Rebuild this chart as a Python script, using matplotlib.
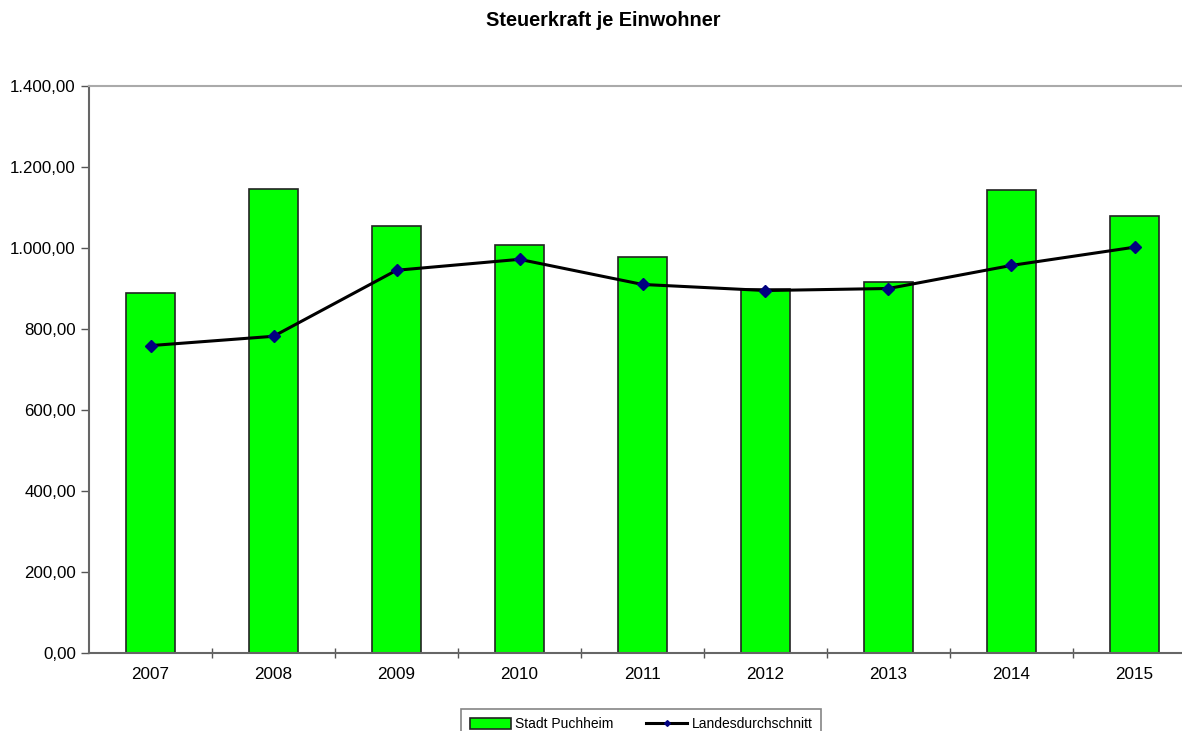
import numpy as np
import matplotlib.pyplot as plt
from matplotlib.ticker import FuncFormatter

plt.rcParams['font.family'] = ['Liberation Sans', 'DejaVu Sans']

## DATA
years = ['2007', '2008', '2009', '2010', '2011', '2012', '2013', '2014', '2015']
stadt = [888, 1145, 1054, 1007, 979, 900, 915, 1143, 1078]
landes = [759, 782, 945, 972, 910, 895, 900, 957, 1002]

W, H = 1182, 731
fig = plt.figure(figsize=(W / 100, H / 100), dpi=100)
ax = fig.add_axes([89 / W, 78 / H, (W - 89) / W, (653 - 86) / H])

x = np.arange(len(years))
bars = ax.bar(x, stadt, width=0.4, color='#00ff00', edgecolor='#222222', linewidth=1.2,
              label='Stadt Puchheim', zorder=2)
line, = ax.plot(x, landes, color='black', linewidth=2.2, marker='D', markersize=6.5,
                markerfacecolor='#000080', markeredgecolor='#000080',
                label='Landesdurchschnitt', zorder=3)

ax.set_ylim(0, 1400)
ax.set_yticks(np.arange(0, 1401, 200))
ax.yaxis.set_major_formatter(FuncFormatter(
    lambda v, p: '{:,.2f}'.format(v).replace(',', 'X').replace('.', ',').replace('X', '.')))
ax.set_xlim(-0.5, 8.5 - 14 / 123)
ax.set_xticks(x)
ax.set_xticklabels(years)
ax.set_xticks(np.arange(0.5, 8.5, 1), minor=True)
ax.tick_params(axis='x', which='major', length=0, pad=10, labelsize=12.3)
ax.tick_params(axis='x', which='minor', length=7, width=1, direction='inout', color='#555555')
ax.tick_params(axis='y', length=6, width=1, color='#555555', labelsize=12.2, pad=3.5)

ax.spines['right'].set_visible(False)
ax.spines['top'].set_color('#aaaaaa')
ax.spines['top'].set_linewidth(1.5)
for s in ['left', 'bottom']:
    ax.spines[s].set_color('#666666')
    ax.spines[s].set_linewidth(1.5)

fig.text(603 / W, 1 - 20 / H, 'Steuerkraft je Einwohner', ha='center', va='center',
         fontsize=14.3, fontweight='bold')

leg = fig.legend([bars, line], ['Stadt Puchheim', 'Landesdurchschnitt'],
                 loc='upper center', bbox_to_anchor=(641 / W, 1 - 702 / H), ncol=2,
                 frameon=True, fancybox=False, edgecolor='#666666', fontsize=10,
                 handlelength=3.0, handleheight=0.9, columnspacing=2.3,
                 handletextpad=0.3, borderpad=0.6, markerscale=0.45)
leg.get_frame().set_linewidth(1.2)

fig.savefig('out.png', dpi=100)
